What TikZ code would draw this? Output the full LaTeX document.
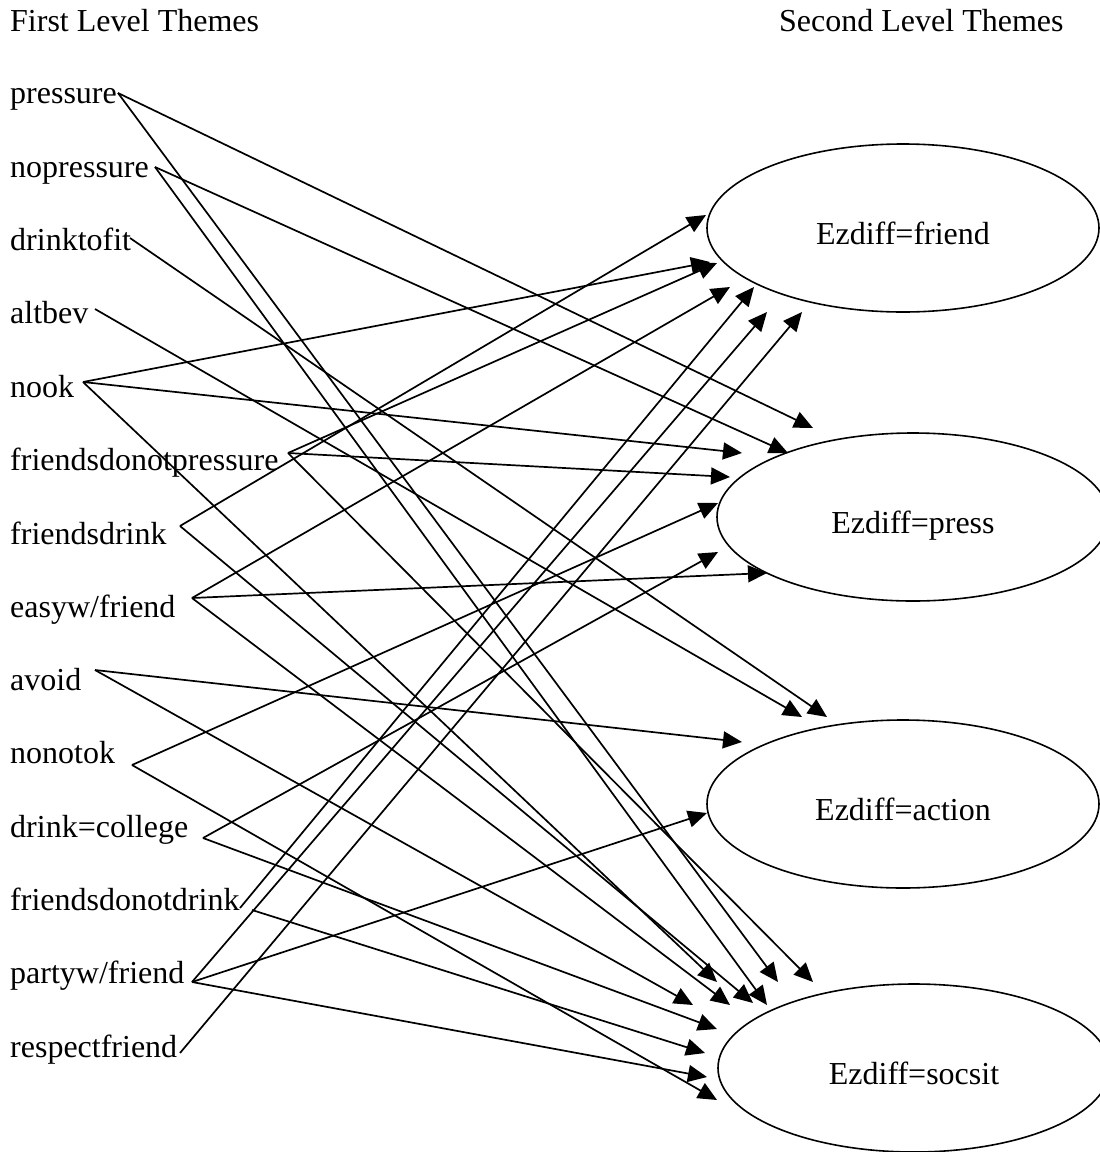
\documentclass[tikz,border=0pt]{standalone}
\usepackage{fontspec}
\setmainfont{Liberation Serif}
\usetikzlibrary{arrows.meta,shapes.geometric}
\begin{document}
\begin{tikzpicture}[x=1pt,y=-1pt,
  lbl/.style={anchor=base west,inner sep=0pt,font=\fontsize{32}{38}\selectfont},
  ell/.style={draw,ellipse,line width=1.6pt,minimum width=392pt,minimum height=168pt,inner sep=0pt,text height=32pt,text depth=0pt,font=\fontsize{32}{38}\selectfont},
  link/.style={line width=1.7pt,-{Triangle[length=19pt,width=17pt]}}
]
\useasboundingbox (0,0) rectangle (1100,1152);
% titles
\node[lbl] (first) at (10,31) {First Level Themes};
\node[lbl] (second) at (779,31) {Second Level Themes};
% first level labels
\node[lbl] (pressure) at (10,103) {pressure};
\node[lbl] (nopressure) at (10,177) {nopressure};
\node[lbl] (drinktofit) at (10,250) {drinktofit};
\node[lbl] (altbev) at (10,323) {altbev};
\node[lbl] (nook) at (10,397) {nook};
\node[lbl] (fdnp) at (10,470) {friendsdonotpressure};
\node[lbl] (fdrink) at (10,544) {friendsdrink};
\node[lbl] (easyw) at (10,617) {easyw/friend};
\node[lbl] (avoid) at (10,690) {avoid};
\node[lbl] (nonotok) at (10,763) {nonotok};
\node[lbl] (dcollege) at (10,837) {drink=college};
\node[lbl] (fdnd) at (10,910) {friendsdonotdrink};
\node[lbl] (partyw) at (10,983) {partyw/friend};
\node[lbl] (respect) at (10,1057) {respectfriend};
% second level ellipses
\node[ell] (friend) at (903,228) {Ezdiff=friend};
\node[ell] (press) at (913,517) {Ezdiff=press};
\node[ell] (action) at (903,804) {Ezdiff=action};
\node[ell] (socsit) at (914,1068) {Ezdiff=socsit};
% line origins
\coordinate (pressure-o) at (118,93);
\coordinate (nopressure-o) at (155,167);
\coordinate (drinktofit-o) at (130,238);
\coordinate (altbev-o) at (95,309);
\coordinate (nook-o) at (83,382);
\coordinate (fdnp-o) at (288,453);
\coordinate (fdrink-o) at (180,526);
\coordinate (easyw-o) at (192,598);
\coordinate (avoid-o) at (95,670);
\coordinate (nonotok-o) at (132,765);
\coordinate (dcollege-o) at (203,838);
\coordinate (fdnd-o) at (240,908);
\coordinate (fdnd-o2) at (252,910);
\coordinate (partyw-o) at (192,982);
\coordinate (respect-o) at (180,1053);
% arrow tips near friend
\coordinate (F1) at (706,215);
\coordinate (F2) at (710,262);
\coordinate (F3) at (717,263);
\coordinate (F4) at (730,287);
\coordinate (F5) at (754,287);
\coordinate (F6) at (767,312);
\coordinate (F7) at (802,312);
% near press
\coordinate (R1) at (813,428);
\coordinate (R2) at (788,453);
\coordinate (R3) at (742,453);
\coordinate (R4) at (730,477);
\coordinate (R5) at (718,503);
\coordinate (R6) at (718,552);
\coordinate (R7) at (767,573);
% near action
\coordinate (A1) at (802,717);
\coordinate (A2) at (827,717);
\coordinate (A3) at (742,742);
\coordinate (A4) at (707,813);
% near socsit
\coordinate (S1) at (717,982);
\coordinate (S2) at (778,982);
\coordinate (S3) at (813,982);
\coordinate (S4) at (693,1005);
\coordinate (S5) at (730,1005);
\coordinate (S6) at (753,1003);
\coordinate (S7) at (767,1005);
\coordinate (S8) at (717,1029);
\coordinate (S9) at (705,1053);
\coordinate (S10) at (707,1077);
\coordinate (S11) at (717,1100);
% connectors
\draw[link] (pressure-o) -- (R1);
\draw[link] (pressure-o) -- (S2);
\draw[link] (nopressure-o) -- (R2);
\draw[link] (nopressure-o) -- (S7);
\draw[link] (drinktofit-o) -- (A2);
\draw[link] (altbev-o) -- (A1);
\draw[link] (nook-o) -- (F2);
\draw[link] (nook-o) -- (R3);
\draw[link] (nook-o) -- (S1);
\draw[link] (fdnp-o) -- (F3);
\draw[link] (fdnp-o) -- (R4);
\draw[link] (fdnp-o) -- (S3);
\draw[link] (fdrink-o) -- (F1);
\draw[link] (fdrink-o) -- (S6);
\draw[link] (easyw-o) -- (F4);
\draw[link] (easyw-o) -- (R7);
\draw[link] (easyw-o) -- (S5);
\draw[link] (avoid-o) -- (A3);
\draw[link] (avoid-o) -- (S4);
\draw[link] (nonotok-o) -- (R5);
\draw[link] (nonotok-o) -- (S11);
\draw[link] (dcollege-o) -- (R6);
\draw[link] (dcollege-o) -- (S8);
\draw[link] (fdnd-o) -- (F5);
\draw[link] (fdnd-o2) -- (S9);
\draw[link] (partyw-o) -- (F6);
\draw[link] (partyw-o) -- (A4);
\draw[link] (partyw-o) -- (S10);
\draw[link] (respect-o) -- (F7);
\end{tikzpicture}
\end{document}
